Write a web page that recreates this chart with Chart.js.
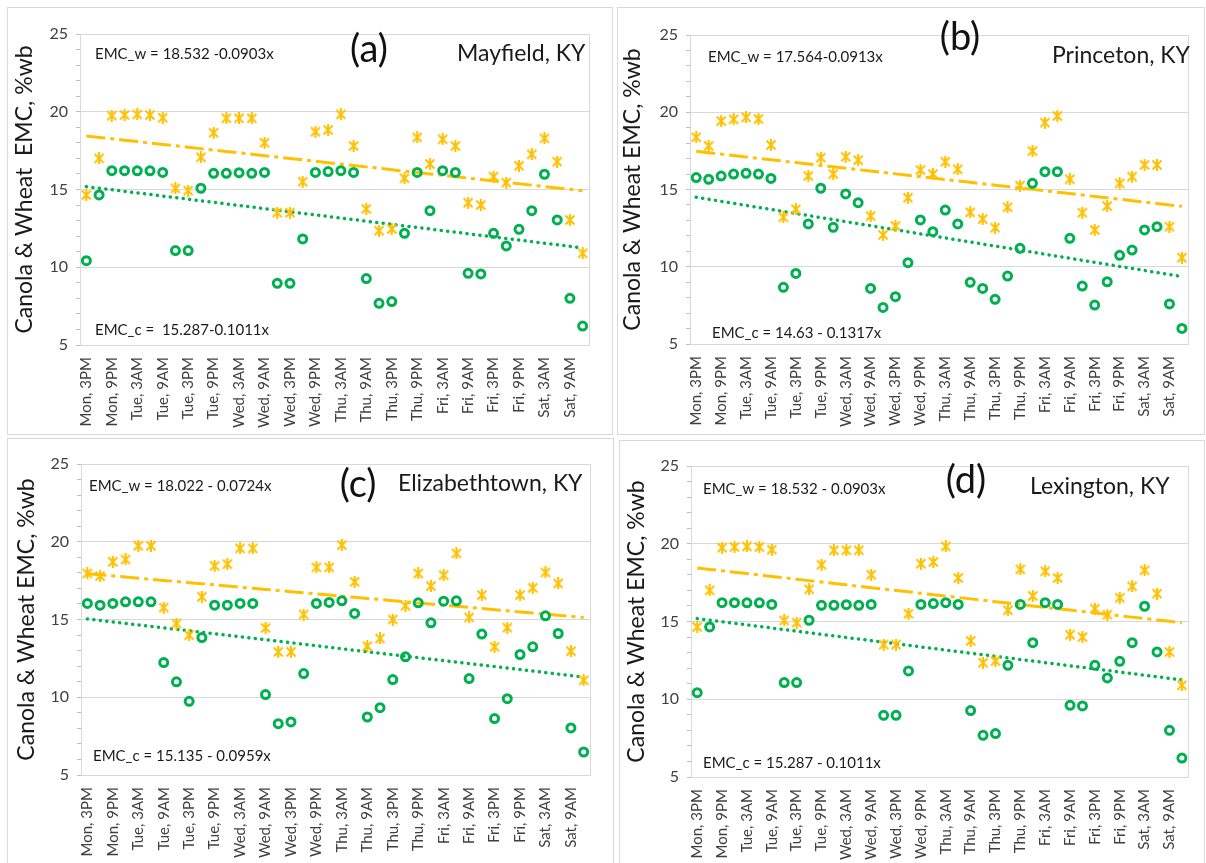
<!DOCTYPE html>
<html><head><meta charset="utf-8">
<script src="https://cdn.jsdelivr.net/npm/chart.js@4.4.1/dist/chart.umd.min.js"></script>
<style>
html,body{margin:0;padding:0;background:#fff;}
body{width:1206px;height:863px;position:relative;overflow:hidden;}
.panel{position:absolute;border:1px solid #d9d9d9;box-sizing:border-box;background:#fff;}
.panel canvas{position:absolute;left:0;top:0;}
</style></head><body>
<div class="panel" id="pa"><canvas id="ca"></canvas></div>
<div class="panel" id="pb"><canvas id="cb"></canvas></div>
<div class="panel" id="pc"><canvas id="cc"></canvas></div>
<div class="panel" id="pd"><canvas id="cd"></canvas></div>
<script>
// ---------- DATA ----------
const tickLabels = ["Mon, 3PM","Mon, 9PM","Tue, 3AM","Tue, 9AM","Tue, 3PM","Tue, 9PM","Wed, 3AM","Wed, 9AM","Wed, 3PM","Wed, 9PM","Thu, 3AM","Thu, 9AM","Thu, 3PM","Thu, 9PM","Fri, 3AM","Fri, 9AM","Fri, 3PM","Fri, 9PM","Sat, 3AM","Sat, 9AM"];
// 40 three-hourly readings; only every other one carries a label
const categories = tickLabels.flatMap(l => [l, ""]);
const yMin = 5, yMax = 25, yMajor = 5;

const aWheat  = [14.65,17.0,19.75,19.79,19.83,19.79,19.62,15.07,14.93,17.07,18.65,19.58,19.58,19.58,18.01,13.51,13.51,15.5,18.72,18.83,19.83,17.8,13.75,12.35,12.46,15.72,18.35,16.64,18.23,17.8,14.15,14.0,15.83,15.44,16.53,17.26,18.29,16.79,13.04,10.9];
const aCanola = [10.42,14.65,16.21,16.21,16.2,16.2,16.1,11.07,11.07,15.08,16.04,16.04,16.08,16.04,16.1,8.97,8.97,11.82,16.1,16.15,16.21,16.1,9.27,7.68,7.79,12.18,16.1,13.64,16.21,16.1,9.61,9.57,12.18,11.37,12.44,13.64,15.98,13.04,8.0,6.22];

const bWheat  = [18.38,17.82,19.43,19.54,19.67,19.56,17.88,13.2,13.72,15.87,17.06,16.0,17.12,16.9,13.28,12.06,12.64,14.47,16.26,16.0,16.8,16.31,13.52,13.09,12.53,13.85,15.25,17.49,19.33,19.76,15.66,13.5,12.38,13.93,15.4,15.83,16.59,16.59,12.59,10.59];
const bCanola = [15.77,15.66,15.87,16.0,16.05,16.0,15.72,8.67,9.57,12.77,15.08,12.55,14.71,14.15,8.6,7.37,8.06,10.26,13.03,12.27,13.67,12.77,8.99,8.6,7.89,9.4,11.19,15.4,16.15,16.15,11.84,8.75,7.52,9.03,10.74,11.08,12.38,12.59,7.59,6.01];

const cWheat  = [17.96,17.79,18.71,18.86,19.74,19.74,15.77,14.74,13.99,16.46,18.45,18.56,19.57,19.57,14.46,12.92,12.92,15.32,18.35,18.35,19.79,17.42,13.28,13.78,15.0,15.88,17.96,17.15,17.85,19.25,15.13,16.57,13.24,14.48,16.57,17.04,18.03,17.32,12.96,11.09];
const cCanola = [16.03,15.92,16.03,16.14,16.14,16.14,12.23,10.99,9.74,13.84,15.92,15.92,16.03,16.03,10.17,8.3,8.41,11.52,16.03,16.1,16.2,15.39,8.73,9.33,11.14,12.6,16.07,14.79,16.18,16.2,11.2,14.06,8.63,9.91,12.75,13.24,15.24,14.1,8.03,6.48];

const dWheat  = [14.65,17.0,19.75,19.79,19.83,19.79,19.62,15.07,14.93,17.07,18.65,19.58,19.58,19.58,18.01,13.51,13.51,15.5,18.72,18.83,19.83,17.8,13.75,12.35,12.46,15.72,18.35,16.64,18.23,17.8,14.15,14.0,15.83,15.44,16.53,17.26,18.29,16.79,13.04,10.9];
const dCanola = [10.42,14.65,16.21,16.21,16.2,16.2,16.1,11.07,11.07,15.08,16.04,16.04,16.08,16.04,16.1,8.97,8.97,11.82,16.1,16.15,16.21,16.1,9.27,7.68,7.79,12.18,16.1,13.64,16.21,16.1,9.61,9.57,12.18,11.37,12.44,13.64,15.98,13.04,8.0,6.22];

// trendline coefficients [intercept, slope] (x = 1..40)
const aTrendW = [18.532, -0.0903], aTrendC = [15.287, -0.1011];
const bTrendW = [17.564, -0.0913], bTrendC = [14.63, -0.1317];
const cTrendW = [18.022, -0.0724], cTrendC = [15.135, -0.0959];
const dTrendW = [18.532, -0.0903], dTrendC = [15.287, -0.1011];

const letters   = ["(a)","(b)","(c)","(d)"];
const locations = ["Mayfield, KY","Princeton, KY","Elizabethtown, KY","Lexington, KY"];
const eqW = ["EMC_w = 18.532 -0.0903x","EMC_w = 17.564-0.0913x","EMC_w = 18.022 - 0.0724x","EMC_w = 18.532 - 0.0903x"];
const eqC = ["EMC_c =  15.287-0.1011x","EMC_c = 14.63 - 0.1317x","EMC_c = 15.135 - 0.0959x","EMC_c = 15.287 - 0.1011x"];
const yTitles = ["Canola & Wheat  EMC, %wb","Canola & Wheat EMC, %wb","Canola & Wheat EMC, %wb","Canola & Wheat EMC, %wb"];

// ---------- STYLE / LAYOUT ----------
const FONT = "Lato, 'Open Sans', sans-serif";
const WHEAT = "#FFC000", CANOLA = "#00B050";
// box: border rectangle [x,y,w,h]; plot: chart area [left,top,right,bottom] in page px
const layout = [
  {box:[7,7,606,428],   plot:[80,34,589,345],  titlePad:3, letter:[369,50], loc:[457,54], eqW:[95,54], eqC:[95,330]},
  {box:[617,7,588,428], plot:[690,35,1196,344], titlePad:1, letter:[960,38], loc:[1052,56], eqW:[708,57], eqC:[712,333]},
  {box:[7,438,607,426], plot:[81,464,590,775], titlePad:5, letter:[358,485], loc:[398,484], eqW:[89,486], eqC:[93,756]},
  {box:[619,440,586,424], plot:[691,466,1196,777], titlePad:3, letter:[966,481], loc:[1030,487], eqW:[703,489], eqC:[703,763]}
];

function starMarker(color){
  const c = document.createElement('canvas'); c.width = 12; c.height = 12;
  const g = c.getContext('2d'); g.strokeStyle = color; g.lineWidth = 2;
  g.beginPath();
  g.moveTo(1.5,1.5); g.lineTo(10.5,10.5);
  g.moveTo(10.5,1.5); g.lineTo(1.5,10.5);
  g.moveTo(6,0); g.lineTo(6,12);
  g.stroke();
  return c;
}
const star = starMarker(WHEAT);

const decor = {
  id:'decor',
  beforeDatasetsDraw(chart){
    const ca = chart.chartArea, ctx = chart.ctx;
    ctx.save(); ctx.strokeStyle = '#d9d9d9'; ctx.lineWidth = 1;
    ctx.strokeRect(Math.round(ca.left)+0.5, Math.round(ca.top)+0.5, Math.round(ca.right-ca.left), Math.round(ca.bottom-ca.top));
    ctx.restore();
  },
  afterDraw(chart, args, opts){
    const ctx = chart.ctx;
    ctx.save();
    for (const t of opts.items){
      ctx.font = t.font; ctx.fillStyle = t.color || '#1a1a1a';
      ctx.textAlign = t.align || 'left'; ctx.textBaseline = 'middle';
      ctx.fillText(t.text, t.x, t.y);
    }
    ctx.restore();
  }
};

const panels = [
  ['ca', aWheat, aCanola, aTrendW, aTrendC],
  ['cb', bWheat, bCanola, bTrendW, bTrendC],
  ['cc', cWheat, cCanola, cTrendW, cTrendC],
  ['cd', dWheat, dCanola, dTrendW, dTrendC]
];
const divIds = ['pa','pb','pc','pd'];

panels.forEach(([cid, wheat, canola, tw, tc], k) => {
  const L = layout[k];
  const div = document.getElementById(divIds[k]);
  div.style.left = L.box[0]+'px'; div.style.top = L.box[1]+'px';
  div.style.width = L.box[2]+'px'; div.style.height = L.box[3]+'px';
  const ox = L.box[0]+1, oy = L.box[1]+1;
  const cw = L.box[2]-2, ch = L.box[3]-2;
  const cv = document.getElementById(cid);
  cv.width = cw; cv.height = ch; cv.style.width = cw+'px'; cv.style.height = ch+'px';
  const yW = L.plot[0]-ox, padTop = L.plot[1]-oy, padRight = cw-(L.plot[2]-ox), xH = ch-(L.plot[3]-oy);

  new Chart(cv, {
    type:'line',
    data:{
      labels: categories,
      datasets:[
        {data: canola, showLine:false, pointStyle:'circle', pointRadius:4, pointBorderWidth:3,
         pointBorderColor:CANOLA, pointBackgroundColor:'rgba(0,0,0,0)', borderColor:CANOLA, order:1},
        {data: wheat, showLine:false, pointStyle:star, pointRadius:6, borderColor:WHEAT, order:2},
        {data: categories.map((_, i) => tw[0] + tw[1]*(i+1)), borderColor:WHEAT, borderWidth:3,
         borderDash:[19,5,4,5], pointRadius:0, fill:false, order:4},
        {data: categories.map((_, i) => tc[0] + tc[1]*(i+1)), borderColor:CANOLA, borderWidth:3.5,
         borderDash:[0.1,6.4], borderCapStyle:'round', pointRadius:0, fill:false, order:3}
      ]
    },
    options:{
      responsive:false, animation:false, devicePixelRatio:1,
      layout:{padding:{left:0, top:padTop, right:padRight, bottom:0}},
      plugins:{legend:{display:false}, tooltip:{enabled:false},
        decor:{items:[
          {text:eqW[k], x:L.eqW[0]-ox, y:L.eqW[1]-oy, font:`15px ${FONT}`},
          {text:eqC[k], x:L.eqC[0]-ox, y:L.eqC[1]-oy, font:`15px ${FONT}`},
          {text:letters[k], x:L.letter[0]-ox, y:L.letter[1]-oy, font:`38px ${FONT}`, align:'center', color:'#111'},
          {text:locations[k], x:L.loc[0]-ox, y:L.loc[1]-oy, font:`23px ${FONT}`}
        ]}},
      scales:{
        x:{
          offset:true,
          grid:{display:false}, border:{display:false},
          ticks:{autoSkip:false, minRotation:90, maxRotation:90, padding:4,
                 font:{family:FONT, size:15}, color:'#404040'},
          afterFit(s){ s.height = xH; }
        },
        y:{
          min:yMin, max:yMax,
          border:{display:false},
          grid:{color:c => (c.tick && c.tick.value % yMajor === 0) ? '#d9d9d9' : 'rgba(0,0,0,0)',
                tickColor:'#bfbfbf', tickLength:4, drawTicks:true},
          ticks:{stepSize:1, autoSkip:false, padding:8, font:{family:FONT, size:16}, color:'#404040',
                 callback:v => (v % yMajor === 0) ? v : ''},
          title:{display:true, text:yTitles[k], font:{family:FONT, size:23}, color:'#1a1a1a',
                 padding:{top:L.titlePad, bottom:0}},
          afterFit(s){ s.width = yW; }
        }
      }
    },
    plugins:[decor]
  });
});
</script>
</body></html>
